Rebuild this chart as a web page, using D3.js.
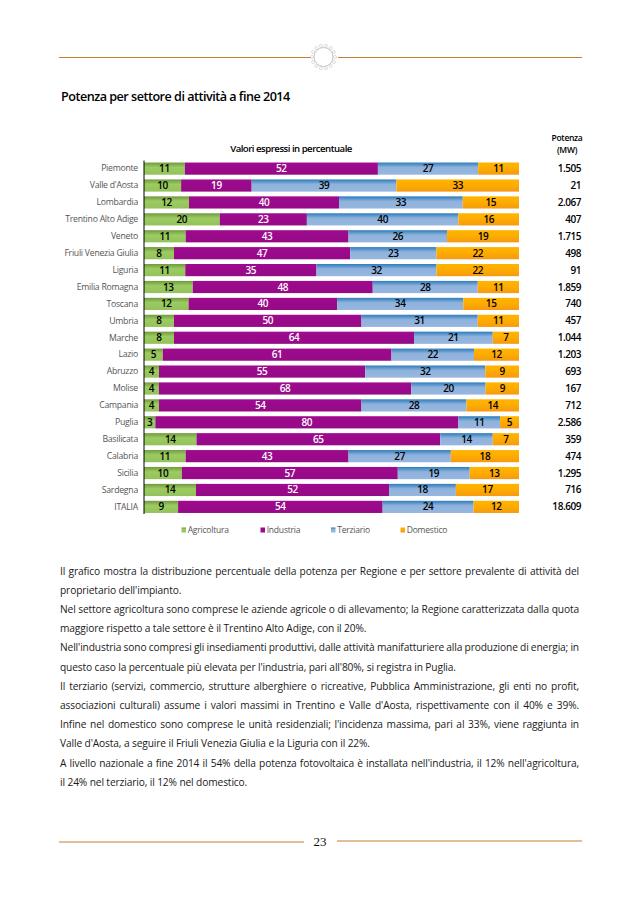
<!DOCTYPE html>
<html><head><meta charset="utf-8">
<script src="https://cdn.jsdelivr.net/npm/d3@7/dist/d3.min.js"></script>
<style>html,body{margin:0;padding:0;background:#fff}svg{display:block}text{font-family:"Open Sans","Noto Sans",sans-serif}</style>
</head><body><svg id="c" width="638" height="903"></svg>
<script>
const regions=["Piemonte","Valle d'Aosta","Lombardia","Trentino Alto Adige","Veneto","Friuli Venezia Giulia","Liguria","Emilia Romagna","Toscana","Umbria","Marche","Lazio","Abruzzo","Molise","Campania","Puglia","Basilicata","Calabria","Sicilia","Sardegna","ITALIA"];
const agricoltura=[11,10,12,20,11,8,11,13,12,8,8,5,4,4,4,3,14,11,10,14,9];
const industria=[52,19,40,23,43,47,35,48,40,50,64,61,55,68,54,80,65,43,57,52,54];
const terziario=[27,39,33,40,26,23,32,28,34,31,21,22,32,20,28,11,14,27,19,18,24];
const domestico=[11,33,15,16,19,22,22,11,15,11,7,12,9,9,14,5,7,18,13,17,12];
const potenza=["1.505","21","2.067","407","1.715","498","91","1.859","740","457","1.044","1.203","693","167","712","2.586","359","474","1.295","716","18.609"];
const sectors=["Agricoltura","Industria","Terziario","Domestico"];
const paragraph=[
["Il grafico mostra la distribuzione percentuale della potenza per Regione e per settore prevalente di attività del",1],
["proprietario dell'impianto.",0],
["Nel settore agricoltura sono comprese le aziende agricole o di allevamento; la Regione caratterizzata dalla quota",1],
["maggiore rispetto a tale settore è il Trentino Alto Adige, con il 20%.",0],
["Nell'industria sono compresi gli insediamenti produttivi, dalle attività manifatturiere alla produzione di energia; in",1],
["questo caso la percentuale più elevata per l'industria, pari all'80%, si registra in Puglia.",0],
["Il terziario (servizi, commercio, strutture alberghiere o ricreative, Pubblica Amministrazione, gli enti no profit,",1],
["associazioni culturali) assume i valori massimi in Trentino e Valle d'Aosta, rispettivamente con il 40% e 39%.",1],
["Infine nel domestico sono comprese le unità residenziali; l'incidenza massima, pari al 33%, viene raggiunta in",1],
["Valle d'Aosta, a seguire il Friuli Venezia Giulia e la Liguria con il 22%.",0],
["A livello nazionale a fine 2014 il 54% della potenza fotovoltaica è installata nell'industria, il 12% nell'agricoltura,",1],
["il 24% nel terziario, il 12% nel domestico.",0]];

const svg=d3.select("#c");
const rows=regions.map((r,i)=>({region:r,Agricoltura:agricoltura[i],Industria:industria[i],Terziario:terziario[i],Domestico:domestico[i]}));
const stacked=d3.stack().keys(sectors).offset(d3.stackOffsetExpand)(rows);
const x=d3.scaleLinear().domain([0,1]).range([144,519]);
const y=d3.scaleBand().domain(regions).range([160.5,515]).paddingInner(0.28).paddingOuter(0.12);
const grads={Agricoltura:["#6f9a3c","#9ccb62","#94c25a"],Industria:["#a00a8f","#9a0a8b","#950a86"],Terziario:["#2c7cbc","#8fb2dc","#96b6de"],Domestico:["#ffb400","#ffae00","#f59a10"]};
const defs=svg.append("defs");
sectors.forEach(s=>{const g=defs.append("linearGradient").attr("id","g"+s).attr("x1",0).attr("x2",0).attr("y1",0).attr("y2",1);
 [0,.4,1].forEach((o,i)=>g.append("stop").attr("offset",o).attr("stop-color",grads[s][i]));});

const rule="#c47f38";
[[59,311,57.5],[338,582,57.5],[59,304,842],[337,582,841]].forEach(([a,b,c])=>svg.append("line").attr("x1",a).attr("x2",b).attr("y1",c).attr("y2",c).attr("stroke",rule).attr("stroke-width",1));
const sun=svg.append("g").attr("transform","translate(323.5,57)");
sun.append("circle").attr("r",9.5).attr("fill","#fff").attr("stroke","#b5b5b5").attr("stroke-width",.8);
d3.range(14).forEach(i=>sun.append("circle").attr("r",1.5).attr("cx",11.5*Math.cos(i*Math.PI/7)).attr("cy",11.5*Math.sin(i*Math.PI/7)).attr("fill","none").attr("stroke","#c4c4c4").attr("stroke-width",.6));
svg.append("text").attr("x",320).attr("y",846).attr("text-anchor","middle").style("font-family","'Liberation Serif',serif").style("font-size","13px").attr("fill","#111").text("23");

svg.append("text").attr("x",61).attr("y",101).style("font-size","12.6px").style("font-weight",600).style("letter-spacing","-.5px").attr("fill","#000").text("Potenza per settore di attività a fine 2014");
svg.append("text").attr("x",291).attr("y",152).attr("text-anchor","middle").style("font-size","9.6px").style("font-weight",600).style("letter-spacing","-.5px").attr("fill","#000").text("Valori espressi in percentuale");
[["Potenza",141],["(MW)",152.7]].forEach(([t,yy])=>svg.append("text").attr("x",567).attr("y",yy).attr("text-anchor","middle").style("font-size","8.5px").style("font-weight",600).style("letter-spacing","-.3px").attr("fill","#000").text(t));

const g=svg.append("g");
stacked.forEach(layer=>{
 const lg=g.append("g");
 lg.selectAll("rect").data(layer).join("rect").attr("x",d=>x(d[0])).attr("width",d=>x(d[1])-x(d[0])).attr("y",d=>y(d.data.region)).attr("height",y.bandwidth()).attr("fill",`url(#g${layer.key})`);
 lg.selectAll("text").data(layer).join("text").attr("x",d=>(x(d[0])+x(d[1]))/2).attr("y",d=>y(d.data.region)+y.bandwidth()/2+3.5).attr("text-anchor","middle").style("font-size","10px").style("font-weight",600).style("letter-spacing","-.4px").attr("fill",layer.key==="Industria"?"#fff":"#000").text(d=>d.data[layer.key]);
});
const ax=svg.append("g").attr("transform","translate(144,0)").call(d3.axisLeft(y).tickSize(0).tickPadding(6));
ax.select(".domain").attr("stroke","#000").attr("stroke-width",1).attr("d","M0,160.5V514");
ax.selectAll("text").style("font-size","8.7px").style("font-family",'"Open Sans",sans-serif').attr("fill","#555").style("letter-spacing","-.25px");
svg.append("g").selectAll("text").data(potenza).join("text").attr("x",581).attr("y",(d,i)=>y(regions[i])+y.bandwidth()/2+3.5).attr("text-anchor","end").style("font-size","10px").style("font-weight",600).style("letter-spacing","-.45px").attr("fill","#000").text(d=>d);
const lx=d3.scaleOrdinal().domain(sectors).range([181.5,260.5,331,400.5]);
const leg=svg.append("g").selectAll("g").data(sectors).join("g").attr("transform",d=>`translate(${lx(d)},530)`);
leg.append("rect").attr("y",-2.5).attr("width",4.5).attr("height",5).attr("fill",d=>`url(#g${d})`);
leg.append("text").attr("x",6.2).attr("y",3).style("font-size","8.5px").style("letter-spacing","-.2px").attr("fill","#555").text(d=>d);
const L=60,R=579,y0=574.5,dy=19.2;
paragraph.forEach(([t,just],i)=>{
 const el=svg.append("text").attr("x",L).attr("y",y0+i*dy).style("font-size","10.2px").style("letter-spacing","-.12px").attr("fill","#1a1a1a").text(t);
 if(just){const w=el.node().getComputedTextLength();const n=t.split(" ").length-1;el.style("word-spacing",((R-L-w)/n)+"px");}
});
</script></body></html>
